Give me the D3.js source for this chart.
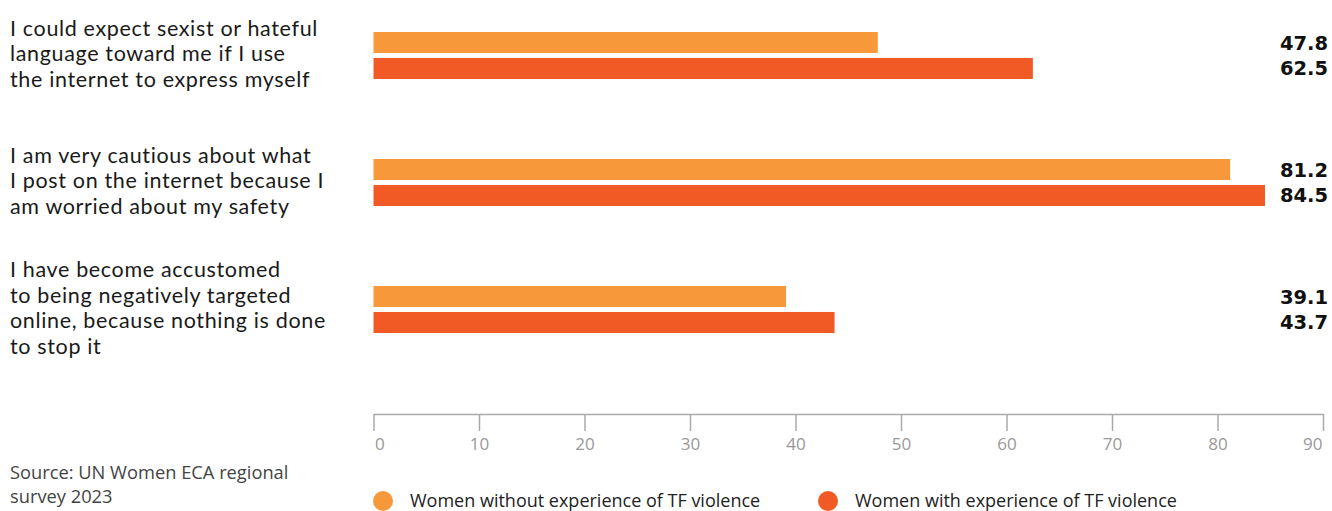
<!DOCTYPE html>
<html>
<head>
<meta charset="utf-8">
<script src="https://cdn.jsdelivr.net/npm/d3@7"></script>
<style>
  html, body { margin: 0; padding: 0; background: #fff; }
  svg { display: block; font-family: "Open Sans", "Noto Sans", sans-serif; }
</style>
</head>
<body>
<svg id="chart" width="1332" height="511"></svg>
<script>
// statements shown on the left, one array entry per line of text
var categories = [
    ["I could expect sexist or hateful", "language toward me if I use", "the internet to express myself"],
    ["I am very cautious about what", "I post on the internet because I", "am worried about my safety"],
    ["I have become accustomed", "to being negatively targeted", "online, because nothing is done", "to stop it"]
];
var seriesNames = ["Women without experience of TF violence", "Women with experience of TF violence"];
var withoutTF = [47.8, 81.2, 39.1];
var withTF = [62.5, 84.5, 43.7];
var xTicks = [0, 10, 20, 30, 40, 50, 60, 70, 80, 90];
var sourceLines = ["Source: UN Women ECA regional", "survey 2023"];

var colors = ["#f7983a", "#f15a24"];

var svg = d3.select("#chart");

var x = d3.scaleLinear().domain([0, 90]).range([373.5, 1323]);

var y = d3.scaleBand()
    .domain(d3.range(categories.length))
    .range([32, 333])
    .paddingInner(0.63)
    .paddingOuter(0);

var ySub = d3.scaleBand()
    .domain([0, 1])
    .range([0, y.bandwidth()])
    .paddingInner(0.19);

// combine both series per category
var data = categories.map(function(lines, i) {
    return {
        idx: i,
        lines: lines,
        values: [withoutTF[i], withTF[i]]
    };
});

var groups = svg.selectAll("g.group")
    .data(data)
    .enter().append("g")
    .attr("class", "group")
    .attr("transform", function(d) { return "translate(0," + y(d.idx) + ")"; });

groups.selectAll("rect")
    .data(function(d) { return d.values; })
    .enter().append("rect")
    .attr("x", x(0))
    .attr("y", function(v, j) { return ySub(j); })
    .attr("width", function(v) { return x(v) - x(0); })
    .attr("height", ySub.bandwidth())
    .attr("fill", function(v, j) { return colors[j]; });

groups.selectAll("text.value")
    .data(function(d) { return d.values; })
    .enter().append("text")
    .attr("class", "value")
    .attr("x", 1328)
    .attr("y", function(v, j) { return ySub(j) + ySub.bandwidth() / 2; })
    .attr("dy", "0.36em")
    .attr("text-anchor", "end")
    .style("font-family", "'DejaVu Sans', sans-serif")
    .style("font-size", "19.5px")
    .style("font-weight", 700)
    .attr("fill", "#111")
    .text(function(v) { return v.toFixed(1); });

// left statements, roughly centred on each pair of bars
var lineH = 26;
groups.append("text")
    .attr("class", "label")
    .attr("fill", "#1a1a1a")
    .style("font-family", "Lato, sans-serif")
    .style("font-size", "21.5px")
    .style("letter-spacing", "0.65px")
    .each(function(d) {
        var t = d3.select(this);
        var startY = y.bandwidth() / 2 - (d.lines.length - 1) * lineH / 2 + 6;
        d.lines.forEach(function(line, k) {
            t.append("tspan")
                .attr("x", 10)
                .attr("y", startY + k * lineH)
                .text(line);
        });
    });

// x axis
var xAxis = d3.axisBottom(x)
    .tickValues(xTicks)
    .tickSize(17)
    .tickPadding(7)
    .tickSizeOuter(0);

var axisG = svg.append("g")
    .attr("transform", "translate(0,414)")
    .call(xAxis);

axisG.select(".domain").attr("stroke", "#aaa").attr("stroke-width", 1.5);
axisG.selectAll(".tick line").attr("stroke", "#aaa").attr("stroke-width", 1.5);
axisG.selectAll(".tick text")
    .attr("fill", "#999")
    .style("font-size", "17px")
    .style("font-family", "Open Sans, sans-serif")
    .attr("text-anchor", function(d, i) {
        if (i === 0) return "start";
        if (i === xTicks.length - 1) return "end";
        return "middle";
    })
    .attr("x", function(d, i) {
        if (i === 0) return 1;
        if (i === xTicks.length - 1) return -1;
        return 0;
    });

// source note
svg.append("text")
    .attr("fill", "#444")
    .style("font-size", "18.3px")
    .selectAll("tspan")
    .data(sourceLines)
    .enter().append("tspan")
    .attr("x", 10)
    .attr("y", function(d, i) { return 479 + i * 24; })
    .text(function(d) { return d; });

// legend
var legendX = [383, 828];
var legend = svg.selectAll("g.legend")
    .data(seriesNames)
    .enter().append("g")
    .attr("class", "legend")
    .attr("transform", function(d, i) { return "translate(" + legendX[i] + ",501)"; });

legend.append("circle")
    .attr("r", 10)
    .attr("fill", function(d, i) { return colors[i]; });

legend.append("text")
    .attr("x", 27)
    .attr("dy", "0.36em")
    .attr("fill", "#222")
    .style("font-size", "18px")
    .text(function(d) { return d; });
</script>
</body>
</html>
